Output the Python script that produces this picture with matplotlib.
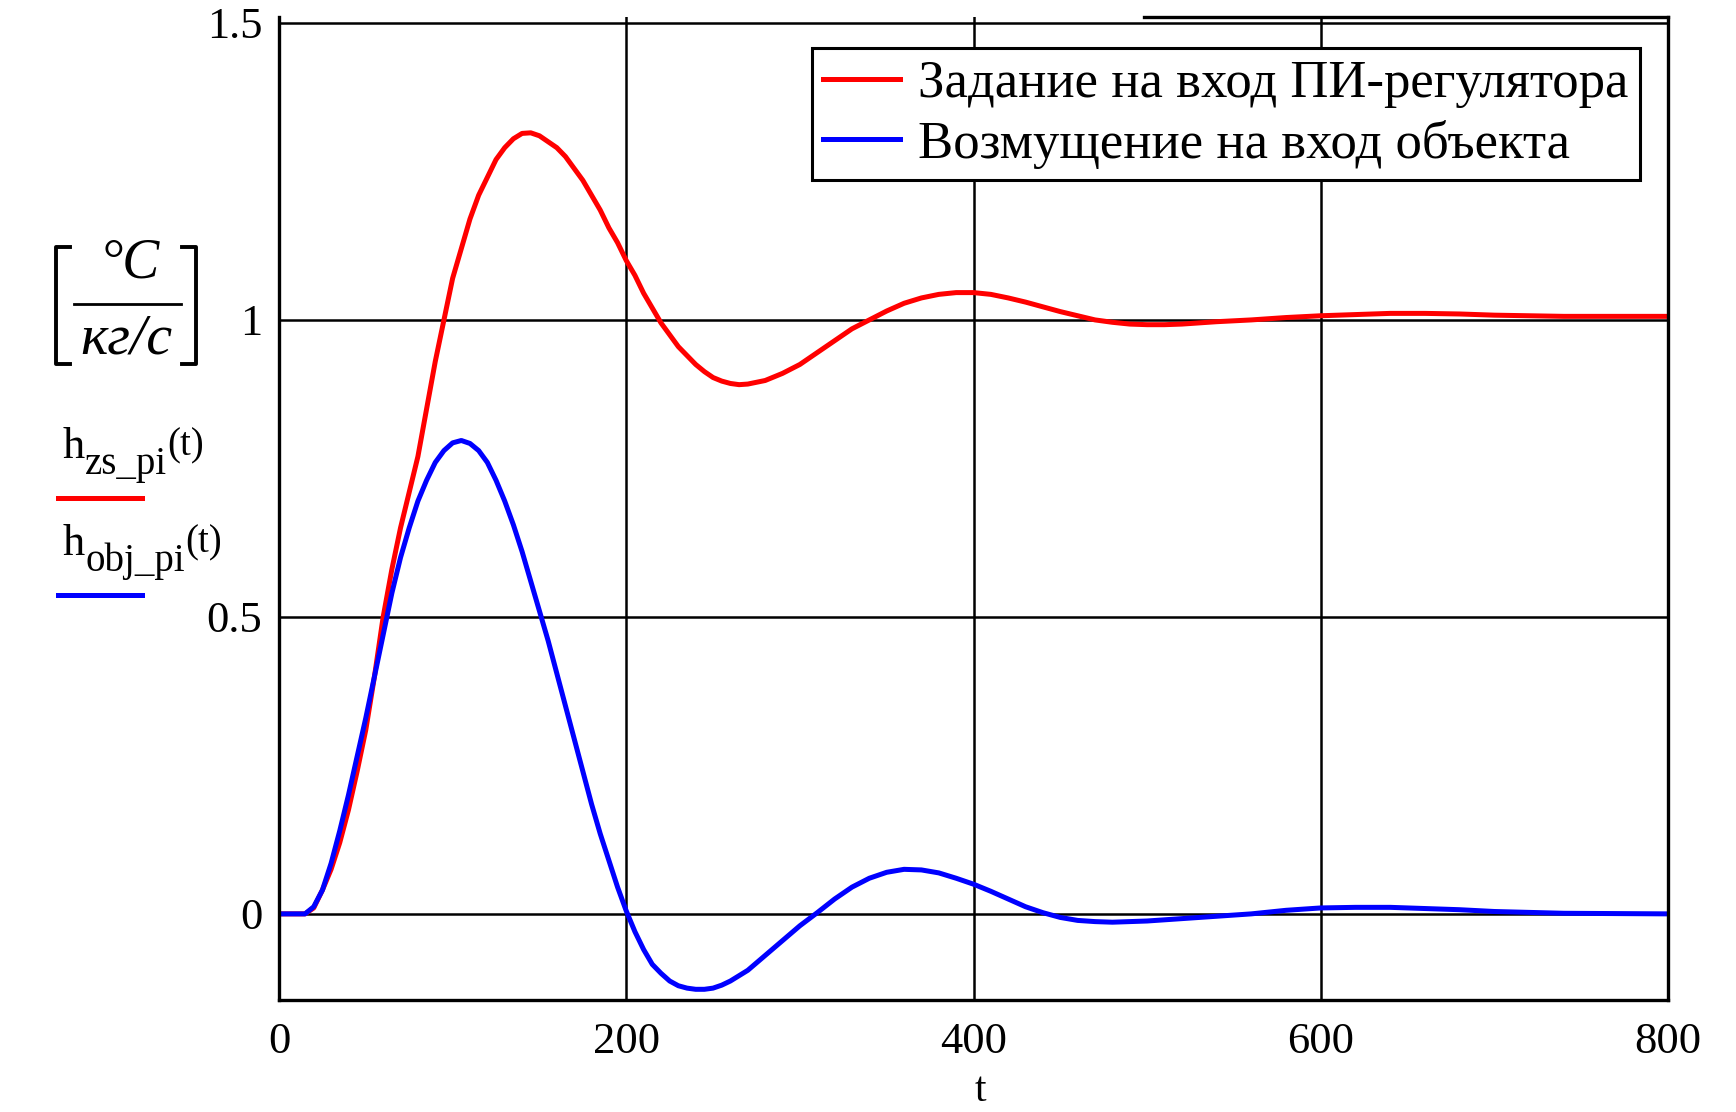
import matplotlib
matplotlib.use("Agg")
import matplotlib.pyplot as plt
from matplotlib.lines import Line2D

plt.rcParams['font.family'] = ['Liberation Serif', 'DejaVu Serif']

# ----- data ----- #
t_zs = [0, 15, 20, 25, 30, 35, 40, 45, 50, 55, 60, 65, 70, 75, 80, 85, 90, 95,
        100, 105, 110, 115, 120, 125, 130, 135, 140, 145, 150, 155, 160, 165,
        170, 175, 180, 185, 190, 195, 200, 205, 210, 215, 220, 225, 230, 235,
        240, 245, 250, 255, 260, 265, 270, 280, 290, 300, 310, 320, 330, 340,
        350, 360, 370, 380, 390, 400, 410, 420, 430, 440, 450, 460, 470, 480,
        490, 500, 510, 520, 530, 540, 560, 580, 600, 620, 640, 660, 680, 700,
        740, 800]
h_zs = [0, 0, 0.01, 0.04, 0.075, 0.12, 0.175, 0.24, 0.31, 0.40, 0.50, 0.58,
        0.65, 0.71, 0.77, 0.85, 0.93, 1.0, 1.07, 1.12, 1.17, 1.21, 1.24, 1.27,
        1.29, 1.305, 1.314, 1.315, 1.31, 1.30, 1.29, 1.275, 1.255, 1.235, 1.21,
        1.185, 1.155, 1.13, 1.10, 1.075, 1.045, 1.02, 0.995, 0.975, 0.955,
        0.94, 0.925, 0.913, 0.903, 0.897, 0.893, 0.891, 0.892, 0.898, 0.91,
        0.925, 0.945, 0.965, 0.985, 1.0, 1.015, 1.028, 1.037, 1.043, 1.046,
        1.046, 1.043, 1.037, 1.03, 1.022, 1.014, 1.007, 1.0, 0.996, 0.993,
        0.992, 0.992, 0.993, 0.995, 0.997, 1.0, 1.004, 1.007, 1.009, 1.011,
        1.011, 1.01, 1.008, 1.006, 1.006]

t_obj = [0, 15, 20, 25, 30, 35, 40, 45, 50, 55, 60, 65, 70, 75, 80, 85, 90,
         95, 100, 105, 110, 115, 120, 125, 130, 135, 140, 145, 150, 155, 160,
         165, 170, 175, 180, 185, 190, 195, 200, 205, 210, 215, 220, 225, 230,
         235, 240, 245, 250, 255, 260, 270, 280, 290, 300, 310, 320, 330, 340,
         350, 360, 370, 380, 390, 400, 410, 420, 430, 440, 450, 460, 470, 480,
         490, 500, 520, 540, 560, 580, 600, 620, 640, 660, 680, 700, 740, 800]
h_obj = [0, 0, 0.012, 0.04, 0.085, 0.14, 0.2, 0.265, 0.33, 0.40, 0.47, 0.54,
         0.6, 0.65, 0.695, 0.73, 0.76, 0.78, 0.793, 0.797, 0.792, 0.78, 0.76,
         0.73, 0.695, 0.655, 0.61, 0.56, 0.51, 0.46, 0.405, 0.35, 0.295, 0.24,
         0.185, 0.135, 0.09, 0.045, 0.005, -0.03, -0.06, -0.085, -0.1, -0.113,
         -0.121, -0.125, -0.127, -0.127, -0.125, -0.12, -0.113, -0.095, -0.07,
         -0.045, -0.02, 0.002, 0.025, 0.045, 0.06, 0.07, 0.075, 0.074, 0.069,
         0.06, 0.05, 0.038, 0.025, 0.012, 0.002, -0.006, -0.011, -0.013,
         -0.014, -0.013, -0.012, -0.008, -0.004, 0.0, 0.006, 0.01, 0.011,
         0.011, 0.009, 0.007, 0.004, 0.001, 0.0]

x_ticks = [0, 200, 400, 600, 800]
y_ticks = [0, 0.5, 1, 1.5]
y_tick_labels = ['0', '0.5', '1', '1.5']
legend_labels = ['Задание на вход ПИ-регулятора', 'Возмущение на вход объекта']

W, H = 1736, 1112
fig = plt.figure(figsize=(W / 100, H / 100), dpi=100)
ax = fig.add_axes([279 / W, 112 / H, 1389 / W, 983 / H])

ax.plot(t_zs, h_zs, color='#ff0000', lw=3.6, label=legend_labels[0])
ax.plot(t_obj, h_obj, color='#0000ff', lw=3.6, label=legend_labels[1])

ax.set_xlim(0, 800)
ax.set_ylim(-0.145, 1.51)
ax.set_xticks(x_ticks)
ax.set_yticks(y_ticks)
ax.set_yticklabels(y_tick_labels)
ax.tick_params(length=0, labelsize=32, pad=12)
ax.tick_params(axis='x', pad=16)
ax.grid(True, color='black', lw=1.8)

for s in ['left', 'right', 'bottom']:
    ax.spines[s].set_linewidth(2.4)
ax.spines['top'].set_visible(False)
ax.plot([0.623, 1.0], [1.0, 1.0], transform=ax.transAxes, color='black',
        lw=2.4, clip_on=False)

leg = ax.legend(loc='upper right', bbox_to_anchor=(0.98, 0.968),
                fontsize=38, frameon=True, fancybox=False, framealpha=1,
                edgecolor='black', borderaxespad=0, borderpad=0.22,
                handlelength=1.45, handletextpad=0.35, labelspacing=0.22)
leg.get_frame().set_linewidth(2.2)


# ----- y-axis label block (units and series names) ----- #
def fx(px):
    return px / W


def fy(py):
    return 1 - py / H


blk = dict(color='black', lw=2.8, transform=fig.transFigure)
fig.add_artist(Line2D([fx(70), fx(56), fx(56), fx(70)],
                      [fy(247), fy(247), fy(364), fy(364)], **blk))
fig.add_artist(Line2D([fx(182), fx(196), fx(196), fx(182)],
                      [fy(247), fy(247), fy(364), fy(364)], **blk))
fig.add_artist(Line2D([fx(74), fx(181)], [fy(304), fy(304)],
                      color='black', lw=2.0, transform=fig.transFigure))
fig.text(fx(130), fy(264), '°C', style='italic', fontsize=40,
         ha='center', va='center')
fig.text(fx(126), fy(340), 'кг/с', style='italic', fontsize=42,
         ha='center', va='center')


def series_name(x, y, sub, color, line_y):
    h = fig.text(fx(x), fy(y), 'h', fontsize=32, ha='left', va='baseline')
    s = ax.annotate(sub, xy=(1, 0), xycoords=h, xytext=(0, -5),
                    textcoords='offset points', fontsize=28,
                    ha='left', va='baseline', annotation_clip=False)
    ax.annotate('(t)', xy=(1, 0), xycoords=s, xytext=(0, 20),
                textcoords='offset points', fontsize=28,
                ha='left', va='baseline', annotation_clip=False)
    fig.add_artist(Line2D([fx(58), fx(142)], [fy(line_y), fy(line_y)],
                          color=color, lw=3.6, transform=fig.transFigure))


series_name(63, 458, 'zs_pi', '#ff0000', 498)
series_name(63, 555, 'obj_pi', '#0000ff', 595)

fig.text(fx(980), fy(1110), 't', fontsize=30, ha='center', va='bottom')

fig.savefig('out.png', dpi=100)
